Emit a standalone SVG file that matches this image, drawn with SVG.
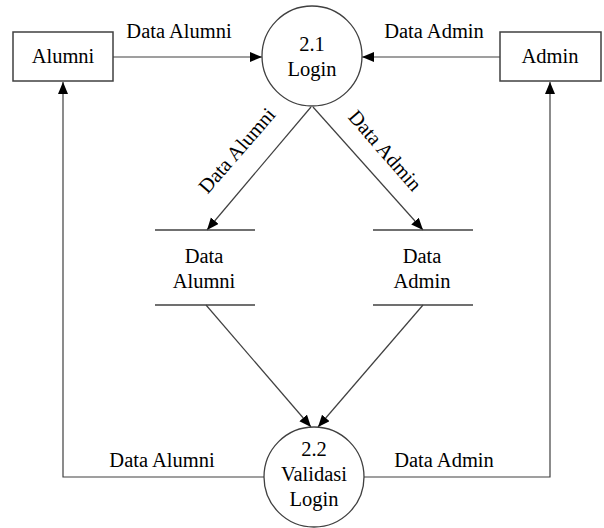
<svg xmlns="http://www.w3.org/2000/svg" width="604" height="528" viewBox="0 0 604 528">
  <style>
    .lbl { font-family: "Liberation Serif", "Times New Roman", serif; font-size: 20.5px; fill: #000; text-anchor: middle; }
    .ent { fill: #fff; stroke: #404040; stroke-width: 1.5; }
    .proc { fill: #fff; stroke: #404040; stroke-width: 1.3; }
    .store { stroke: #404040; stroke-width: 1.5; }
    .flow { fill: none; stroke: #404040; stroke-width: 1.2; }
    .arr { marker-end: url(#head); }
  </style>
  <defs>
    <marker id="head" markerUnits="userSpaceOnUse" markerWidth="13" markerHeight="11" refX="12" refY="5" orient="auto">
      <path d="M0,0 L12,5 L0,10 z" fill="#000"/>
    </marker>
  </defs>
  <rect width="604" height="528" fill="#fff"/>

  <g id="connectors">
    <line class="flow arr" x1="113" y1="57" x2="262" y2="57"/>
    <line class="flow arr" x1="500" y1="57" x2="362" y2="57"/>
    <line class="flow arr" x1="311" y1="107" x2="207" y2="230"/>
    <line class="flow arr" x1="313" y1="107" x2="423" y2="230"/>
    <line class="flow arr" x1="206" y1="305" x2="311" y2="427"/>
    <line class="flow arr" x1="423" y1="305" x2="318" y2="427"/>
    <polyline class="flow arr" points="264,477 63,477 63,82"/>
    <polyline class="flow arr" points="364,477 550,477 550,82"/>
    <text class="lbl" x="179" y="38">Data Alumni</text>
    <text class="lbl" x="434" y="38">Data Admin</text>
    <text class="lbl" x="0" y="0" transform="translate(242,155) rotate(-49)">Data Alumni</text>
    <text class="lbl" x="0" y="0" transform="translate(380,155) rotate(49)">Data Admin</text>
    <text class="lbl" x="162" y="467">Data Alumni</text>
    <text class="lbl" x="444" y="467">Data Admin</text>
  </g>

  <g id="alumni">
    <rect class="ent" x="13" y="32" width="100" height="49"/>
    <text class="lbl" x="63" y="63">Alumni</text>
  </g>

  <g id="admin">
    <rect class="ent" x="500" y="32" width="101" height="49"/>
    <text class="lbl" x="550" y="63">Admin</text>
  </g>

  <g id="login">
    <circle class="proc" cx="312" cy="56" r="50"/>
    <text class="lbl" x="312" y="51">2.1</text>
    <text class="lbl" x="312" y="76">Login</text>
  </g>

  <g id="store-alumni">
    <line class="store" x1="155" y1="230" x2="255" y2="230"/>
    <line class="store" x1="155" y1="305" x2="255" y2="305"/>
    <text class="lbl" x="204" y="263">Data</text>
    <text class="lbl" x="204" y="288">Alumni</text>
  </g>

  <g id="store-admin">
    <line class="store" x1="373" y1="230" x2="473" y2="230"/>
    <line class="store" x1="373" y1="305" x2="473" y2="305"/>
    <text class="lbl" x="422" y="263">Data</text>
    <text class="lbl" x="422" y="288">Admin</text>
  </g>

  <g id="validasi-login">
    <circle class="proc" cx="314" cy="477" r="50"/>
    <text class="lbl" x="314" y="456">2.2</text>
    <text class="lbl" x="314" y="481">Validasi</text>
    <text class="lbl" x="314" y="506">Login</text>
  </g>
</svg>
